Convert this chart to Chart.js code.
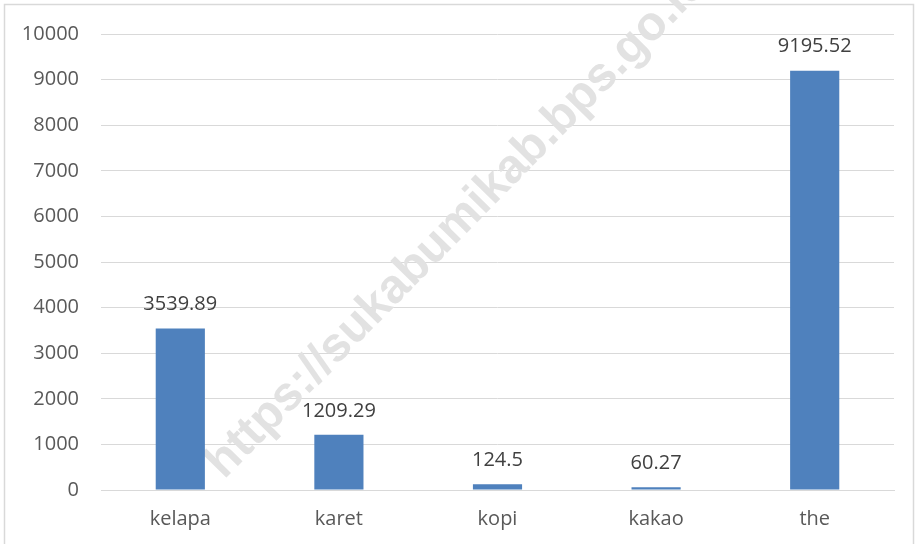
<!DOCTYPE html>
<html>
<head>
<meta charset="utf-8">
<script src="https://cdn.jsdelivr.net/npm/chart.js@4"></script>
<style>
  html, body { margin: 0; padding: 0; background: #fff; }
</style>
</head>
<body>
<canvas id="chart" width="923" height="544"></canvas>
<script>
// categories and values
const categories = ['kelapa', 'karet', 'kopi', 'kakao', 'the']
const values = [3539.89, 1209.29, 124.5, 60.27, 9195.52]
const value_labels = ['3539.89', '1209.29', '124.5', '60.27', '9195.52']
const y_max = 10000
const y_step = 1000
const watermark = 'https://sukabumikab.bps.go.id'

const font_family = '"Open Sans", "Liberation Sans", sans-serif'

// frame + watermark + value labels
const decor = {
    id: 'decor',
    beforeDraw(chart) {
        const ctx = chart.ctx
        ctx.save()
        ctx.strokeStyle = '#d9d9d9'
        ctx.lineWidth = 1.5
        ctx.strokeRect(4.5, 4.5, 909, 600)
        ctx.restore()
    },
    beforeDatasetsDraw(chart) {
        const ctx = chart.ctx
        ctx.save()
        ctx.translate(224, 480)
        ctx.rotate(-45.5 * Math.PI / 180)
        ctx.font = 'bold 48px "Liberation Sans", Arial, sans-serif'
        ctx.fillStyle = '#e2e2e2'
        ctx.textBaseline = 'alphabetic'
        ctx.fillText(watermark, 0, 0)
        ctx.restore()
    },
    afterDatasetsDraw(chart) {
        const ctx = chart.ctx
        const meta = chart.getDatasetMeta(0)
        ctx.save()
        ctx.font = '20px ' + font_family
        ctx.fillStyle = '#404040'
        ctx.textAlign = 'center'
        ctx.textBaseline = 'middle'
        meta.data.forEach((bar, i) => {
            ctx.fillText(value_labels[i], bar.x, bar.y - 24)
        })
        ctx.restore()
    }
}

new Chart(document.getElementById('chart'), {
    type: 'bar',
    data: {
        labels: categories,
        datasets: [{
            data: values,
            backgroundColor: '#4f81bd',
            borderWidth: 0,
            barPercentage: 0.31,
            categoryPercentage: 1
        }]
    },
    options: {
        responsive: false,
        animation: false,
        layout: {
            padding: {left: 0, right: 29, top: 22, bottom: -4}
        },
        scales: {
            x: {
                grid: {display: false, drawTicks: false},
                border: {display: true, color: '#d9d9d9', width: 1},
                ticks: {
                    color: '#595959',
                    padding: 17,
                    font: {family: font_family, size: 20}
                }
            },
            y: {
                min: 0,
                max: y_max,
                afterFit: (scale) => { scale.width = 101 },
                grid: {color: '#d9d9d9', lineWidth: 1, drawTicks: false},
                border: {display: false},
                ticks: {
                    stepSize: y_step,
                    color: '#595959',
                    padding: 22,
                    font: {family: font_family, size: 20},
                    callback: (v) => String(v)
                }
            }
        },
        plugins: {
            legend: {display: false},
            tooltip: {enabled: false}
        }
    },
    plugins: [decor]
})
</script>
</body>
</html>
